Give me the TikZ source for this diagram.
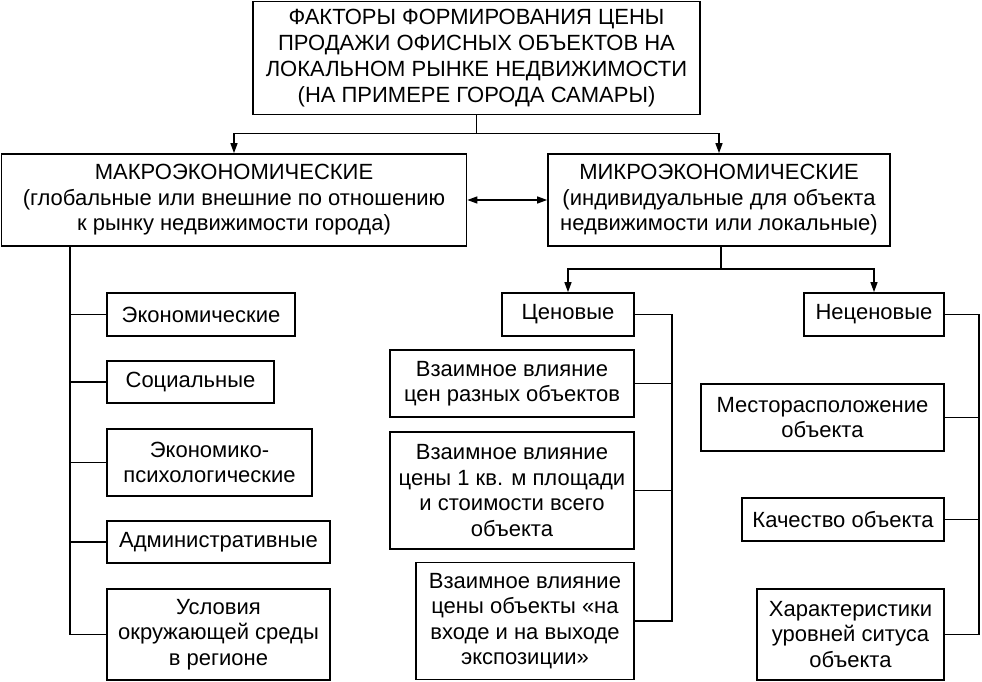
\documentclass[tikz,border=0pt]{standalone}
\usepackage{fontspec}
\setmainfont{Liberation Sans}
\usetikzlibrary{arrows.meta}
\begin{document}
\begin{tikzpicture}[x=1pt,y=-1pt,
  box/.style={draw, line width=1.7pt, align=center, inner sep=0pt,
    font=\fontsize{22}{25.5}\selectfont},
  conn/.style={line width=1.7pt},
  arr/.style={line width=1.4pt, -{Triangle[length=10pt,width=7pt]}},
  darr/.style={line width=1.4pt, {Triangle[length=10pt,width=7pt]}-{Triangle[length=10pt,width=7pt]}}]
\useasboundingbox (0,0) rectangle (982,682);
% top
\node[box, minimum width=447pt, minimum height=113pt,
  font=\fontsize{22}{26}\selectfont] (top) at (476.5,58)
  {ФАКТОРЫ ФОРМИРОВАНИЯ ЦЕНЫ\\ПРОДАЖИ ОФИСНЫХ ОБЪЕКТОВ НА\\ЛОКАЛЬНОМ РЫНКЕ НЕДВИЖИМОСТИ\\(НА ПРИМЕРЕ ГОРОДА САМАРЫ)};
\node[box, minimum width=465pt, minimum height=92pt] (macro) at (234,200)
  {МАКРОЭКОНОМИЧЕСКИЕ\\(глобальные или внешние по отношению\\к рынку недвижимости города)};
\node[box, minimum width=342pt, minimum height=92pt] (micro) at (719,200)
  {МИКРОЭКОНОМИЧЕСКИЕ\\(индивидуальные для объекта\\недвижимости или локальные)};
% left column
\node[box, minimum width=188pt, minimum height=43pt] (eco) at (201,314.5) {Экономические};
\node[box, minimum width=167pt, minimum height=42pt] (soc) at (190.5,382) {Социальные};
\node[box, minimum width=205pt, minimum height=67pt] (psy) at (209.5,462.5) {Экономико-\\психологические};
\node[box, minimum width=223pt, minimum height=42pt] (adm) at (218.5,542) {Административные};
\node[box, minimum width=223pt, minimum height=91pt] (env) at (218.5,634.5) {Условия\\окружающей среды\\в регионе};
% price
\node[box, minimum width=132pt, minimum height=43pt] (cen) at (568,314.5) {Ценовые};
\node[box, minimum width=140pt, minimum height=43pt] (nec) at (874,314.5) {Неценовые};
\node[box, minimum width=244pt, minimum height=67pt] (vz1) at (512,383.5) {Взаимное влияние\\цен разных объектов};
\node[box, minimum width=244pt, minimum height=117pt] (vz2) at (512,490.5) {Взаимное влияние\\цены 1 кв. м площади\\и стоимости всего\\объекта};
\node[box, minimum width=218pt, minimum height=117pt] (vz3) at (525,621) {Взаимное влияние\\цены объекты «на\\входе и на выходе\\экспозиции»};
% non-price
\node[box, minimum width=243pt, minimum height=67pt] (mest) at (822.5,417.5) {Месторасположение\\объекта};
\node[box, minimum width=202pt, minimum height=43pt] (kach) at (843,519.5) {Качество объекта};
\node[box, minimum width=187pt, minimum height=91pt] (har) at (850.5,634.5) {Характеристики\\уровней ситуса\\объекта};
% top connectors
\draw[conn, line width=1.4pt] (top.south) -- ++(0,18) coordinate (tj);
\draw[arr] (tj) -| (macro.north);
\draw[arr] (tj) -| (micro.north);
\draw[darr] (macro.east) -- (micro.west);
% left bus
\coordinate (lb) at ([xshift=69pt]macro.south west);
\draw[conn] (lb) |- (env.west);
\foreach \n in {eco,soc,psy,adm} \draw[conn] (\n.west) -- (\n.west -| lb);
% micro split
\coordinate (mb) at ([xshift=2pt]micro.south);
\draw[conn, line width=1.2pt] (mb) -- ++(0,22) coordinate (mj);
\draw[arr] (mj) -| (cen.north);
\draw[arr] (mj) -| (nec.north);
% price bus
\coordinate (cb) at ([xshift=37pt]cen.east);
\draw[conn] (cen.east) -| (cb |- vz3.east) -- (vz3.east);
\foreach \n in {vz1,vz2} \draw[conn] (\n.east) -- (\n.east -| cb);
% non-price bus
\coordinate (nb) at ([xshift=34pt]nec.east);
\draw[conn] (nec.east) -| (nb |- har.east) -- (har.east);
\foreach \n in {mest,kach} \draw[conn] (\n.east) -- (\n.east -| nb);
\end{tikzpicture}
\end{document}
